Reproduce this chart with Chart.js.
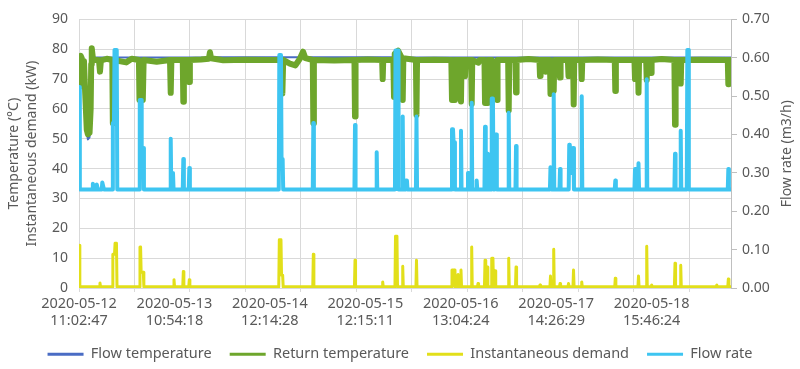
<!DOCTYPE html>
<html>
<head>
<meta charset="utf-8">
<script src="https://cdn.jsdelivr.net/npm/chart.js@4"></script>
<style>
  body { margin: 0; background: #fff; }
  #wrap { width: 800px; height: 369px; position: relative; }
</style>
</head>
<body>
<div id="wrap"><canvas id="chart"></canvas></div>
<script>
// x values are sample indices (the source plots ~1175 samples over the week)
const xGridValues = [0, 100, 200, 300, 400, 500, 600, 700, 800, 900, 1000, 1100];
const xLabelValues = [0, 172, 344, 516, 688, 860, 1032];
const xLabels = [
    ['2020-05-12', '11:02:47'],
    ['2020-05-13', '10:54:18'],
    ['2020-05-14', '12:14:28'],
    ['2020-05-15', '12:15:11'],
    ['2020-05-16', '13:04:24'],
    ['2020-05-17', '14:26:29'],
    ['2020-05-18', '15:46:24']
];
const seriesNames = ['Flow temperature', 'Return temperature', 'Instantaneous demand', 'Flow rate'];

// [sample, °C]
const flowTemp = [
    [0, 77.5], [1, 68], [3, 77.8], [5, 77.2], [7, 71], [9, 76.5], [11, 67], [14, 52], [16, 49.8],
    [19, 50.5], [21, 60], [22, 76], [23, 80.6], [25, 77.3], [100, 77.2], [232, 77.3], [236, 79.3],
    [240, 77.3], [400, 77.3], [403.7, 79.5], [410, 77.3], [568, 77.3], [575, 79.8], [582, 77.2],
    [900, 77.2], [1175, 77.2]
];

// [sample, °C]
const returnTemp = [
    [0, 77.5], [1, 67.5], [3, 77.8], [5, 77], [7, 70], [9, 76], [11, 66], [14, 53], [16, 51.5],
    [19, 52], [21, 60], [22, 75], [23, 80.3], [25, 77], [28, 76.5], [36, 76.3], [37.8, 72.5],
    [39.5, 76.3], [50, 76.8], [60, 76.4], [61, 55.2], [62.5, 76.4], [85, 75.6], [95, 76.8],
    [108, 76.4], [109, 63], [115, 63], [116.5, 76.4], [140, 75.8], [164, 76.4], [165.3, 65.4],
    [166.5, 76.4], [187, 76.4], [188, 62.4], [189, 76.4], [197.8, 76.4], [198.8, 69], [199.8, 76.4],
    [220, 76.6], [234, 76.8], [236, 79], [238, 77], [260, 76.3], [300, 76.5], [340, 76.4],
    [365, 76.4], [366.5, 65.2], [368, 76.4], [380, 75.2], [390, 74.6], [398, 76.8], [403.7, 79.2],
    [408, 77], [421.3, 76.4], [422.3, 55.2], [423.3, 76.4], [460, 76.2], [496.4, 76.4],
    [497.4, 57.5], [498.4, 76.4], [520, 76.6], [546.3, 76.4], [547.3, 70], [548.3, 76.4],
    [566.5, 76.4], [567.7, 64], [569, 78.5], [575, 79.5], [582, 77], [583.4, 63], [584.5, 77],
    [607.2, 76.4], [608.2, 58], [609.2, 76.4], [640, 76.5], [671, 76.4], [672.2, 63], [674, 70],
    [676, 63], [677.6, 76.4], [683, 76.4], [684, 73], [685, 76.4], [687.4, 76.4], [688.4, 62.5],
    [689.4, 76.4], [694.6, 76.4], [695.6, 71], [696.6, 76.4], [706.7, 76.4], [707.7, 61.7],
    [708.7, 76.4], [720, 75.5], [722, 76.4], [730.7, 76.4], [731.7, 62], [733, 70], [735.8, 62],
    [736.8, 76.4], [742.8, 76.4], [743.8, 63.5], [748, 64], [753.3, 63], [754.3, 76.4],
    [773.4, 76.4], [774.4, 59.5], [775.4, 76.4], [786.6, 76.4], [787.6, 65.5], [788.6, 76.4],
    [810, 76.7], [829.8, 76.4], [830.8, 71], [831.8, 76.4], [840.1, 76.4], [841.1, 72.5],
    [842.1, 76.4], [848.7, 76.4], [849.7, 65], [853, 65.5], [855.5, 66], [856.5, 76.4],
    [865.9, 76.4], [866.9, 70.5], [867.9, 76.4], [881, 76.4], [882.2, 71], [883.2, 76.4],
    [890.5, 76.4], [891.5, 61.5], [892.5, 76.4], [905, 76.4], [906, 70], [907, 76.4],
    [935, 76.6], [965.5, 76.4], [966.5, 66], [967.5, 76.4], [1001, 76.4], [1002, 70],
    [1003, 76.4], [1007.3, 76.4], [1008.3, 65.4], [1009.3, 76.4], [1022.1, 76.4], [1023.1, 69.7],
    [1024.1, 76.4], [1029.9, 76.4], [1030.9, 72], [1031.9, 76.4], [1050, 76.7], [1073, 76.4],
    [1074.1, 54.7], [1075.2, 76.4], [1083.4, 76.4], [1084.4, 68.5], [1085.4, 76.4],
    [1120, 76.5], [1169.2, 76.4], [1170.2, 68.3], [1171.2, 76.4], [1175, 76.4]
];

// [sample, kW]
const demand = [
    [0, 14.3], [1.5, 0.4], [36.8, 0.4], [37.8, 1.7], [38.8, 0.4], [60, 0.4], [61, 11.3],
    [64, 11.3], [65, 15], [67.5, 15], [68.5, 0.4], [108.9, 0.4], [109.9, 13.7], [111, 13.7],
    [112, 5.3], [115.9, 5.3], [116.9, 0.4], [170.2, 0.4], [171.2, 2.8], [172.2, 0.4],
    [187, 0.4], [188, 5.5], [189, 0.4], [197.8, 0.4], [198.8, 2.8], [199.8, 0.4],
    [360, 0.4], [361, 16.2], [364, 16.2], [365, 4.3], [367, 4.3], [368, 0.4],
    [421.3, 0.4], [422.3, 11.3], [423.3, 0.4], [496.4, 0.4], [497.4, 9.3], [498.4, 0.4],
    [546.3, 0.4], [547.3, 2], [548.3, 0.4], [569.4, 0.4], [570.4, 17.3], [573, 17.3], [574, 0.4],
    [582.4, 0.4], [583.4, 7.3], [584.4, 0.4], [607.2, 0.4], [608.2, 9.3], [609.2, 0.4],
    [671.2, 0.4], [672.2, 6], [676.6, 6], [677.6, 0.4], [682, 0.4], [683, 4.5], [684, 0.4],
    [687.4, 0.4], [688.4, 6], [689.4, 0.4], [706.7, 0.4], [707.7, 13.7], [708.7, 0.4],
    [718.1, 0.4], [719.1, 1.5], [720.1, 0.4], [730.7, 0.4], [731.7, 9.3], [733, 0.4],
    [734.8, 0.4], [735.8, 7], [736.8, 0.4], [742.8, 0.4], [743.8, 10], [746, 10], [747, 0.4],
    [748.7, 0.4], [749.7, 5.8], [751, 0.4], [773.4, 0.4], [774.4, 10], [775.4, 0.4],
    [786.6, 0.4], [787.6, 7], [788.6, 0.4], [829.8, 0.4], [830.8, 1], [831.8, 0.4],
    [848.7, 0.4], [849.7, 4], [850.7, 0.4], [854.5, 0.4], [855.5, 13], [856.5, 0.4],
    [865.9, 0.4], [866.9, 1.5], [867.9, 0.4], [881.2, 0.4], [882.2, 1.5], [883.2, 0.4],
    [890.2, 0.4], [891.2, 6], [892.2, 0.4], [905, 0.4], [906, 2], [907, 0.4],
    [965.5, 0.4], [966.5, 3.3], [967.5, 0.4], [1007.3, 0.4], [1008.3, 4], [1009.3, 0.4],
    [1022.1, 0.4], [1023.1, 14], [1024.1, 0.4], [1031, 0.4], [1032, 1], [1033, 0.4],
    [1073, 0.4], [1074.1, 8.3], [1075.1, 0.4], [1083.4, 0.4], [1084.4, 7.6], [1085.4, 0.4],
    [1148.3, 0.4], [1149.3, 1], [1150.3, 0.4], [1169.2, 0.4], [1170.2, 3], [1171.2, 0.4],
    [1175, 0.4]
];

// [sample, m3/h]
const flowRate = [
    [0, 0.524], [1.5, 0.257], [24, 0.257], [25, 0.272], [27, 0.257], [31, 0.257], [32, 0.27],
    [34, 0.257], [41, 0.257], [42, 0.275], [45, 0.257], [60, 0.257], [61, 0.43], [63, 0.43],
    [64, 0.62], [68, 0.62], [69, 0.257], [108.5, 0.257], [109.5, 0.49], [112, 0.49],
    [113, 0.365], [116, 0.365], [117, 0.257], [164.3, 0.257], [165.3, 0.389], [166.3, 0.257],
    [168.5, 0.257], [169.4, 0.3], [170.4, 0.257], [187, 0.257], [188, 0.336], [189, 0.257],
    [197.8, 0.257], [198.8, 0.313], [199.8, 0.257], [360, 0.257], [361, 0.607], [364, 0.607],
    [365, 0.336], [367, 0.336], [368, 0.257], [421.3, 0.257], [422.3, 0.43], [423.3, 0.257],
    [496.4, 0.257], [497.4, 0.425], [498.4, 0.257], [535.5, 0.257], [536.5, 0.354],
    [537.5, 0.257], [569.4, 0.257], [570.4, 0.619], [574.9, 0.619], [575.9, 0.257],
    [582.4, 0.257], [583.4, 0.447], [584.4, 0.257], [588, 0.257], [589, 0.28], [591, 0.28],
    [592, 0.257], [607.2, 0.257], [608.2, 0.447], [609.2, 0.257], [671.2, 0.257],
    [672.2, 0.414], [674, 0.414], [675, 0.38], [676.5, 0.38], [677.5, 0.257], [687.4, 0.257],
    [688.4, 0.41], [689.4, 0.257], [700, 0.257], [701, 0.3], [702.5, 0.3], [703.5, 0.257],
    [706.7, 0.257], [707.7, 0.483], [708.7, 0.257], [715.7, 0.257], [716.7, 0.28],
    [717.7, 0.257], [730.7, 0.257], [731.7, 0.42], [733, 0.257], [734.8, 0.257], [735.8, 0.35],
    [736.8, 0.257], [742.8, 0.257], [743.8, 0.494], [746, 0.494], [747, 0.257], [748.7, 0.257],
    [749.7, 0.4], [752, 0.4], [753, 0.257], [773.4, 0.257], [774.4, 0.457], [775.4, 0.257],
    [786.6, 0.257], [787.6, 0.37], [788.6, 0.257], [848.7, 0.257], [849.7, 0.315],
    [851.5, 0.257], [854.5, 0.257], [855.5, 0.505], [856.5, 0.257], [865.9, 0.257],
    [866.9, 0.31], [867.9, 0.257], [882.5, 0.257], [883.5, 0.373], [884.5, 0.3], [887, 0.3],
    [890, 0.365], [891, 0.365], [892, 0.257], [905, 0.257], [906, 0.5], [907, 0.257],
    [965.5, 0.257], [966.5, 0.28], [967.5, 0.257], [1001, 0.257], [1002, 0.31], [1003, 0.257],
    [1007.3, 0.257], [1008.3, 0.325], [1009.3, 0.257], [1022.1, 0.257], [1023.1, 0.544],
    [1024.1, 0.257], [1073, 0.257], [1074.1, 0.35], [1075.1, 0.257], [1083.4, 0.257],
    [1084.4, 0.41], [1085.4, 0.257], [1095.3, 0.257], [1096.3, 0.62], [1098, 0.62],
    [1099, 0.257], [1169.2, 0.257], [1170.2, 0.31], [1171.2, 0.257], [1175, 0.257]
];

const textColor = '#595959';
const gridColor = '#d9d9d9';
const font = { family: "'Noto Sans', sans-serif", size: 14 };
const bigFont = { family: font.family, size: 14.5 };

const toPoints = arr => arr.map(p => ({ x: p[0], y: p[1] }));

function line(label, data, color, width, axis, order) {
    return {
        label: label,
        data: toPoints(data),
        borderColor: color,
        backgroundColor: color,
        borderWidth: width,
        borderJoinStyle: 'round',
        pointRadius: 0,
        tension: 0,
        yAxisID: axis,
        order: order
    };
}

// right axis title reads bottom-to-top in the source, Chart.js would draw it the other way
const rightTitle = {
    id: 'rightTitle',
    afterDraw(chart) {
        const { ctx, chartArea } = chart;
        ctx.save();
        ctx.translate(chart.width - 13, (chartArea.top + chartArea.bottom) / 2);
        ctx.rotate(-Math.PI / 2);
        ctx.font = '14px ' + font.family;
        ctx.fillStyle = textColor;
        ctx.textAlign = 'center';
        ctx.textBaseline = 'middle';
        ctx.fillText('Flow rate (m3/h)', 0, 0);
        ctx.restore();
    }
};

new Chart(document.getElementById('chart'), {
    type: 'line',
    data: {
        datasets: [
            line(seriesNames[0], flowTemp, '#4a6cc4', 2, 'y', 4),
            line(seriesNames[1], returnTemp, '#6ea62c', 6, 'y', 3),
            line(seriesNames[2], demand, '#e2df1a', 3, 'y', 2),
            line(seriesNames[3], flowRate, '#3ec5f1', 4, 'y2', 1)
        ]
    },
    plugins: [rightTitle],
    options: {
        responsive: true,
        maintainAspectRatio: false,
        animation: false,
        layout: { padding: { top: 17, left: 0, right: 0, bottom: 0 } },
        plugins: {
            legend: {
                position: 'bottom',
                maxHeight: 40,
                labels: {
                    color: textColor,
                    font: bigFont,
                    boxWidth: 36,
                    boxHeight: 3,
                    padding: 18,
                    sort: (a, b) => a.datasetIndex - b.datasetIndex,
                    generateLabels(chart) {
                        const items = Chart.defaults.plugins.legend.labels.generateLabels(chart);
                        items.forEach(item => {
                            item.lineWidth = 0;
                            item.fillStyle = item.strokeStyle;
                        });
                        return items;
                    }
                }
            },
            tooltip: { enabled: false }
        },
        scales: {
            x: {
                type: 'linear',
                min: 0,
                max: 1175,
                afterBuildTicks(scale) {
                    const vals = [...new Set(xGridValues.concat(xLabelValues))].sort((a, b) => a - b);
                    scale.ticks = vals.map(v => ({ value: v }));
                },
                afterFit(scale) { scale.height = 41; },
                ticks: {
                    autoSkip: false,
                    maxRotation: 0,
                    minRotation: 0,
                    padding: 3,
                    color: textColor,
                    font: { family: font.family, size: 14.5, lineHeight: 1.2 },
                    callback(value) {
                        const i = xLabelValues.indexOf(value);
                        return i >= 0 ? xLabels[i] : '';
                    }
                },
                grid: {
                    color: ctx => (ctx.tick && xGridValues.includes(ctx.tick.value)) ? gridColor : 'rgba(0,0,0,0)',
                    tickLength: 4
                },
                border: { display: false }
            },
            y: {
                position: 'left',
                min: 0,
                max: 90,
                afterFit(scale) { scale.width = 79; },
                ticks: { stepSize: 10, color: textColor, font: font, padding: 11 },
                grid: { color: gridColor, drawTicks: false },
                border: { display: false },
                title: {
                    display: true,
                    text: ['Temperature (°C)', 'Instantaneous demand (kW)'],
                    color: textColor,
                    font: { family: font.family, size: 14, lineHeight: 1.3 },
                    padding: { top: 5, bottom: 0 }
                }
            },
            y2: {
                position: 'right',
                min: 0,
                max: 0.7,
                afterFit(scale) { scale.width = 69; },
                ticks: {
                    stepSize: 0.1,
                    color: textColor,
                    font: font,
                    padding: 5,
                    callback: v => v.toFixed(2)
                },
                grid: { drawOnChartArea: false, color: '#bfbfbf', tickLength: 6 },
                border: { display: true, color: '#bfbfbf' }
            }
        }
    }
});
</script>
</body>
</html>
